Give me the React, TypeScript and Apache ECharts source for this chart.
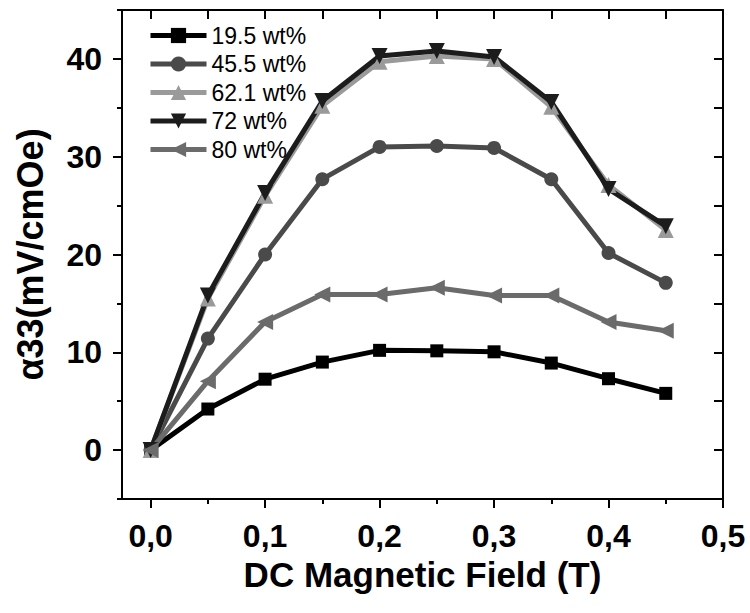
import React, { useEffect, useRef } from "react";
import * as echarts from "echarts";

const FIELD = [0, 0.05, 0.1, 0.15, 0.2, 0.25, 0.3, 0.35, 0.4, 0.45];
const S195 = [0, 4.2, 7.25, 9.0, 10.2, 10.15, 10.05, 8.9, 7.3, 5.8];
const S455 = [0, 11.4, 20.0, 27.7, 31.0, 31.1, 30.9, 27.7, 20.15, 17.1];
const S621 = [0, 15.5, 26.0, 35.2, 39.7, 40.3, 40.0, 35.1, 27.1, 22.5];
const S72 = [0, 15.8, 26.3, 35.7, 40.3, 40.8, 40.2, 35.6, 26.7, 22.9];
const S80 = [0, 7.05, 13.1, 15.9, 15.9, 16.6, 15.8, 15.8, 13.1, 12.2];

const SERIES_NAMES = ["19.5 wt%", "45.5 wt%", "62.1 wt%", "72 wt%", "80 wt%"];

const X_MAJOR = [0, 0.1, 0.2, 0.3, 0.4, 0.5];
const X_MINOR = [0.05, 0.15, 0.25, 0.35, 0.45];
const Y_MAJOR = [0, 10, 20, 30, 40];
const Y_MINOR = [-5, 5, 15, 25, 35, 45];

const X_MIN = -0.025;
const X_MAX = 0.5;
const Y_MIN = -5;
const Y_MAX = 45;

const FONT = '"Liberation Sans", Arial, Helvetica, sans-serif';

function pairs(ys: number[]) {
  return FIELD.map((x, i) => [x, ys[i]]);
}

export default function App() {
  const ref = useRef<HTMLDivElement>(null);

  useEffect(() => {
    if (!ref.current) return;
    const chart = echarts.init(ref.current, null, { renderer: "svg" });

    const lineBlack = { color: "#000", width: 2 };
    const shownLine = { show: true, onZero: false, lineStyle: lineBlack };
    const hiddenLine = { show: false, onZero: false };
    const hidden = { show: false };

    const xBase = {
      type: "value" as const,
      min: X_MIN,
      max: X_MAX,
      splitLine: hidden,
    };
    const yBase = {
      type: "value" as const,
      min: Y_MIN,
      max: Y_MAX,
      splitLine: hidden,
    };

    const labelStyle = {
      fontSize: 32,
      fontWeight: "bold" as const,
      color: "#000",
      fontFamily: FONT,
    };

    const mk = (name: string, ys: number[], color: string, symbol: string, size: number, rotate = 0) => ({
      name,
      type: "line" as const,
      data: pairs(ys),
      symbol,
      symbolSize: size,
      symbolRotate: rotate,
      lineStyle: { color, width: 5 },
      itemStyle: { color, borderColor: color, borderWidth: 0 },
      showAllSymbol: true,
      z: 3,
    });

    chart.setOption({
      animation: false,
      backgroundColor: "#fff",
      grid: { left: 122, right: 27, top: 10, bottom: 114, containLabel: false },
      legend: {
        left: 143,
        top: 19,
        orient: "vertical",
        itemWidth: 56,
        itemHeight: 19,
        itemGap: 5.5,
        lineStyle: { width: 5 },
        textStyle: { fontSize: 23, color: "#000", fontFamily: FONT, lineHeight: 22 },
        data: SERIES_NAMES,
      },
      xAxis: [
        {
          ...xBase,
          position: "bottom",
          axisLine: shownLine,
          axisTick: { show: true, inside: false, length: 9, lineStyle: lineBlack, customValues: X_MAJOR },
          axisLabel: {
            ...labelStyle,
            margin: 21,
            customValues: X_MAJOR,
            formatter: (v: number) => v.toFixed(1).replace(".", ","),
          },
          name: "DC Magnetic Field (T)",
          nameLocation: "middle",
          nameGap: 56,
          nameTextStyle: { fontSize: 35, fontWeight: "bold", color: "#000", fontFamily: FONT },
        },
        {
          ...xBase,
          position: "bottom",
          axisLine: hiddenLine,
          axisTick: { show: true, inside: false, length: 5, lineStyle: lineBlack, customValues: X_MINOR },
          axisLabel: hidden,
        },
        {
          ...xBase,
          position: "top",
          axisLine: shownLine,
          axisTick: { show: true, inside: true, length: 9, lineStyle: lineBlack, customValues: X_MAJOR },
          axisLabel: hidden,
        },
        {
          ...xBase,
          position: "top",
          axisLine: hiddenLine,
          axisTick: { show: true, inside: true, length: 9, lineStyle: lineBlack, customValues: X_MINOR },
          axisLabel: hidden,
        },
      ],
      yAxis: [
        {
          ...yBase,
          position: "left",
          axisLine: shownLine,
          axisTick: { show: true, inside: false, length: 9, lineStyle: lineBlack, customValues: Y_MAJOR },
          axisLabel: { ...labelStyle, margin: 20, customValues: Y_MAJOR },
          name: "α33(mV/cmOe)",
          nameLocation: "middle",
          nameGap: 74,
          nameTextStyle: { fontSize: 36, fontWeight: "bold", color: "#000", fontFamily: FONT },
        },
        {
          ...yBase,
          position: "left",
          axisLine: hiddenLine,
          axisTick: { show: true, inside: false, length: 5, lineStyle: lineBlack, customValues: Y_MINOR },
          axisLabel: hidden,
        },
        {
          ...yBase,
          position: "right",
          axisLine: shownLine,
          axisTick: { show: true, inside: true, length: 9, lineStyle: lineBlack, customValues: Y_MAJOR },
          axisLabel: hidden,
        },
        {
          ...yBase,
          position: "right",
          axisLine: hiddenLine,
          axisTick: { show: true, inside: true, length: 9, lineStyle: lineBlack, customValues: Y_MINOR },
          axisLabel: hidden,
        },
      ],
      series: [
        mk(SERIES_NAMES[0], S195, "#000000", "rect", 13),
        mk(SERIES_NAMES[1], S455, "#4a4a4a", "circle", 14),
        mk(SERIES_NAMES[2], S621, "#9a9a9a", "triangle", 16),
        mk(SERIES_NAMES[3], S72, "#1c1c1c", "triangle", 16, 180),
        mk(SERIES_NAMES[4], S80, "#6b6b6b", "triangle", 16, 90),
      ],
    });

    return () => chart.dispose();
  }, []);

  return (
    <div
      ref={ref}
      style={{ position: "absolute", left: 0, top: 0, width: 750, height: 613, background: "#fff" }}
    />
  );
}
